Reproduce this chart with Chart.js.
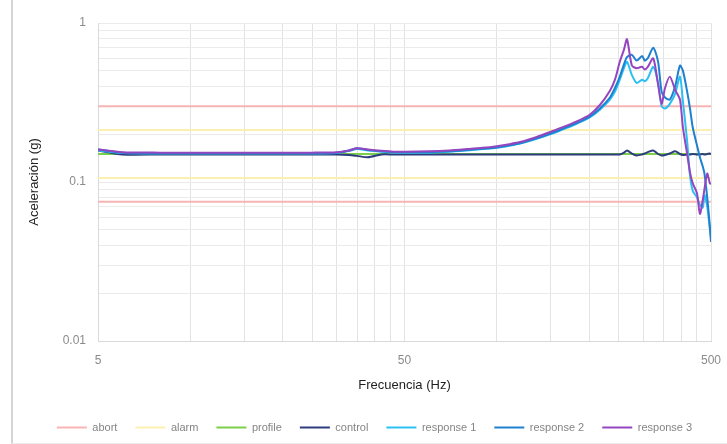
<!DOCTYPE html>
<html>
<head>
<meta charset="utf-8">
<script src="https://cdn.jsdelivr.net/npm/chart.js@4.4.1/dist/chart.umd.min.js"></script>
<style>
    html, body { margin: 0; padding: 0; background: #fff; }
    #wrap { position: relative; width: 727px; height: 444px; }
    #frame { position: absolute; left: 11px; top: 0; width: 716px; height: 444px; border-left: 2px solid #d4d4d4; border-bottom: 1px solid #ececec; box-sizing: border-box; }
    canvas { position: absolute; left: 0; top: 0; }
</style>
</head>
<body>
<div id="wrap">
    <div id="frame"></div>
    <canvas id="vibChart" width="727" height="444"></canvas>
</div>
<script>
// Sweep data (Hz / g)
const freq = [5, 6, 8, 10, 13, 16, 20, 25, 30, 33,
    35, 38, 42, 46, 50, 60, 70, 80, 90, 100,
    110, 120, 135, 150, 165, 180, 201, 217, 234, 243,
    252, 260, 266, 276, 286, 298, 304, 311, 324, 336,
    345, 354, 367, 382, 396, 405, 418, 427, 436, 450,
    460, 470, 476, 486, 496, 500];

const response1 = [0.158, 0.152, 0.151, 0.151, 0.151, 0.151, 0.151, 0.151, 0.152, 0.157,
    0.161, 0.158, 0.155, 0.153, 0.153, 0.153, 0.155, 0.158, 0.161, 0.164,
    0.169, 0.175, 0.187, 0.2, 0.215, 0.23, 0.255, 0.285, 0.33, 0.37,
    0.44, 0.52, 0.57, 0.47, 0.42, 0.44, 0.43, 0.45, 0.53, 0.42,
    0.3, 0.29, 0.31, 0.36, 0.46, 0.32, 0.18, 0.11, 0.088, 0.08,
    0.072, 0.069, 0.083, 0.07, 0.05, 0.044];

const response2 = [0.16, 0.153, 0.152, 0.152, 0.152, 0.152, 0.152, 0.152, 0.153, 0.158,
    0.163, 0.159, 0.156, 0.154, 0.154, 0.154, 0.156, 0.159, 0.162, 0.165,
    0.17, 0.176, 0.188, 0.202, 0.217, 0.232, 0.258, 0.29, 0.34, 0.39,
    0.46, 0.55, 0.61, 0.63, 0.58, 0.62, 0.58, 0.6, 0.7, 0.57,
    0.37, 0.34, 0.33, 0.4, 0.54, 0.5, 0.37, 0.29, 0.22, 0.17,
    0.143, 0.125, 0.113, 0.08, 0.052, 0.042];

const response3 = [0.16, 0.154, 0.153, 0.153, 0.153, 0.153, 0.153, 0.153, 0.154, 0.158,
    0.163, 0.16, 0.157, 0.155, 0.155, 0.156, 0.158, 0.161, 0.164, 0.168,
    0.173, 0.179, 0.192, 0.207, 0.222, 0.238, 0.265, 0.305, 0.375, 0.44,
    0.57, 0.68, 0.79, 0.54, 0.52, 0.53, 0.51, 0.53, 0.6, 0.41,
    0.31, 0.39, 0.46, 0.38, 0.33, 0.22, 0.15, 0.115, 0.098, 0.085,
    0.063, 0.077, 0.09, 0.113, 0.098, 0.097];

const control = [0.158, 0.149, 0.149, 0.149, 0.149, 0.149, 0.149, 0.149, 0.149, 0.148,
    0.146, 0.143, 0.149, 0.149, 0.149, 0.149, 0.149, 0.149, 0.149, 0.149,
    0.149, 0.149, 0.149, 0.149, 0.149, 0.149, 0.149, 0.149, 0.149, 0.149,
    0.149, 0.153, 0.158, 0.151, 0.147, 0.149, 0.151, 0.154, 0.158, 0.15,
    0.147, 0.148, 0.151, 0.156, 0.15, 0.148, 0.149, 0.149, 0.15, 0.149,
    0.149, 0.15, 0.149, 0.15, 0.151, 0.15];

// Limit lines
const limitFreq = [5, 500];
const profileVals = [0.15, 0.15];
const abortUpper = [0.3, 0.3];
const abortLower = [0.075, 0.075];
const alarmUpper = [0.212, 0.212];
const alarmLower = [0.106, 0.106];

// Axis ticks / gridlines
const xGrid = [5, 10, 15, 20, 25, 30, 35, 40, 45, 50, 100, 150, 200, 250, 300, 350, 400, 450, 500];
const xLabels = [5, 50, 500];
const yGrid = [0.01, 0.02, 0.03, 0.04, 0.05, 0.06, 0.07, 0.08, 0.09,
    0.1, 0.2, 0.3, 0.4, 0.5, 0.6, 0.7, 0.8, 0.9, 1];
const yLabels = [0.01, 0.1, 1];

function toPoints(xs, ys) {
    return xs.map((x, i) => ({ x: x, y: ys[i] }));
}

function line(label, xs, ys, color, order, extra) {
    return Object.assign({
        label: label,
        data: toPoints(xs, ys),
        borderColor: color,
        backgroundColor: color,
        borderWidth: 2,
        pointRadius: 0,
        tension: 0.25,
        fill: false,
        order: order
    }, extra || {});
}

const ABORT = '#f8b4b4';
const ALARM = '#fcf0b0';

// shrink legend box so it sits near the bottom edge
const legendHeight = {
    id: 'legendHeight',
    beforeInit(chart) {
        const origFit = chart.legend.fit;
        chart.legend.fit = function () {
            origFit.bind(chart.legend)();
            this.height = 40;
        };
    }
};

const ctx = document.getElementById('vibChart').getContext('2d');
const chart = new Chart(ctx, {
    type: 'line',
    data: {
        datasets: [
            line('abort', limitFreq, abortUpper, ABORT, 6),
            line('alarm', limitFreq, alarmUpper, ALARM, 5),
            line('profile', limitFreq, profileVals, '#7ccf4a', 4),
            line('control', freq, control, '#2c3c7c', 3),
            line('response 1', freq, response1, '#2cc0f2', 2),
            line('response 2', freq, response2, '#1f80d0', 1),
            line('response 3', freq, response3, '#9446c0', 0),
            line('abort', limitFreq, abortLower, ABORT, 6, { skipLegend: true }),
            line('alarm', limitFreq, alarmLower, ALARM, 5, { skipLegend: true })
        ]
    },
    options: {
        responsive: false,
        animation: false,
        layout: { padding: { left: 22, right: 0, top: 23, bottom: 0 } },
        scales: {
            x: {
                type: 'logarithmic',
                min: 5,
                max: 500,
                afterBuildTicks: axis => { axis.ticks = xGrid.map(v => ({ value: v })); },
                afterFit: axis => {
                    axis.height = 63;
                    axis.paddingRight = 0;
                },
                grid: { color: '#e3e3e3', drawTicks: false },
                border: { color: '#d9d9d9' },
                ticks: {
                    autoSkip: false,
                    maxRotation: 0,
                    padding: 12,
                    color: '#8a8a8a',
                    font: { family: 'Liberation Sans', size: 12 },
                    callback: v => xLabels.includes(v) ? String(v) : ''
                },
                title: {
                    display: true,
                    text: 'Frecuencia (Hz)',
                    color: '#1e1e1e',
                    font: { family: 'Liberation Sans', size: 13 },
                    padding: { top: 4, bottom: 11 }
                }
            },
            y: {
                type: 'logarithmic',
                min: 0.01,
                max: 1,
                afterBuildTicks: axis => { axis.ticks = yGrid.map(v => ({ value: v })); },
                afterFit: axis => { axis.width = 76; },
                grid: { color: '#ebebeb', drawTicks: false },
                border: { color: '#d9d9d9' },
                ticks: {
                    autoSkip: false,
                    padding: 12,
                    color: '#8a8a8a',
                    font: { family: 'Liberation Sans', size: 12 },
                    callback: v => yLabels.includes(v) ? String(v) : ''
                },
                title: {
                    display: true,
                    text: 'Aceleración (g)',
                    color: '#1e1e1e',
                    font: { family: 'Liberation Sans', size: 13 },
                    padding: { top: 5, bottom: 4 }
                }
            },
            // spacer on the right so the plot ends at 500 Hz like the original
            y2: {
                position: 'right',
                display: true,
                min: 0,
                max: 1,
                grid: { display: false },
                border: { display: false },
                ticks: { display: false },
                afterFit: axis => { axis.width = 16; }
            }
        },
        plugins: {
            legend: {
                position: 'bottom',
                labels: {
                    usePointStyle: true,
                    pointStyle: 'line',
                    pointStyleWidth: 30,
                    padding: 18,
                    color: '#858585',
                    font: { family: 'Liberation Sans', size: 11 },
                    filter: (item, data) => !data.datasets[item.datasetIndex].skipLegend,
                    sort: (a, b) => a.datasetIndex - b.datasetIndex
                }
            },
            tooltip: { enabled: false }
        }
    },
    plugins: [legendHeight]
});
</script>
</body>
</html>
